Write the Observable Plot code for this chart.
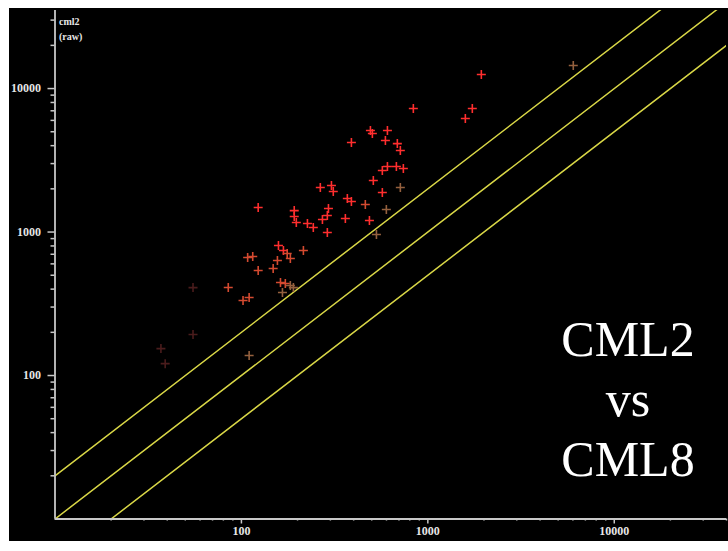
<!DOCTYPE html>
<html><head><meta charset="utf-8">
<script src="https://cdn.jsdelivr.net/npm/d3@7"></script>
<script src="https://cdn.jsdelivr.net/npm/@observablehq/plot@0.6"></script>
<style>
html,body{margin:0;padding:0;background:#fff;width:728px;height:551px;overflow:hidden;}
#panel{position:absolute;left:9px;top:8px;width:719px;height:533px;background:#000;}
#title{position:absolute;left:528px;top:309px;width:200px;text-align:center;font-family:"Liberation Serif","Times New Roman",serif;font-size:50px;line-height:60px;color:#fff;}
</style></head><body>
<div id="panel"></div>
<div id="title">CML2<br>vs<br>CML8</div>
<script>
// CML8 (x, raw) values
const cml8 = [37, 39, 55, 55, 85, 102, 110, 110, 108, 115, 123, 123, 148, 156, 158, 168, 176, 183, 162, 172, 183, 190, 166, 215,
  192, 192, 197, 226, 243, 272, 289, 293, 289, 265, 304, 311, 370, 389, 361, 389, 462, 486, 530, 492, 504, 607, 592, 686, 712,
  570, 607, 678, 739, 510, 712, 570, 599, 836, 1589, 1732, 1936, 6028];
// CML2 (y, raw) values
const cml2 = [154, 121, 410, 193, 411, 333, 350, 138, 664, 675, 1482, 539, 557, 633, 805, 743, 708, 654, 445, 438, 424, 410, 379, 743,
  1411, 1282, 1165, 1146, 1075, 1222, 1303, 1458, 992, 2042, 2109, 1915, 1712, 1632, 1242, 4204, 1555, 1203, 961, 5097, 4858, 5097, 4341, 4136, 3698,
  2683, 2860, 2860, 2770, 2285, 2042, 1885, 1435, 7255, 6179, 7255, 12518, 14465];
// intensity class of each marker
const shade = ["f", "f", "f", "f", "o", "o", "o", "d", "o", "o", "r", "o", "o", "o", "r", "r", "o", "o", "o", "o", "d", "d", "d", "o",
  "r", "r", "r", "r", "r", "r", "r", "r", "r", "r", "r", "r", "r", "r", "r", "r", "o", "r", "d", "r", "r", "r", "r", "r", "r",
  "r", "r", "r", "r", "r", "d", "r", "d", "r", "r", "r", "r", "d"];
const shadeNames = ["r", "o", "d", "f"];
const shadeColors = ["#ff2e2e", "#d44a30", "#94603e", "#4a1c1c"];

const ratios = [2, 1, 0.5];       // fold-change guide lines
const xDomain = [10, 40000];
const yDomain = [10, 35000];
const majorTicks = [100, 1000, 10000];
const decades = [10, 100, 1000, 10000];
const multiples = [2, 3, 4, 5, 6, 7, 8, 9];
const yLabel = ["cml2", "(raw)"];

const minorX = decades.flatMap(d => multiples.map(m => d * m)).filter(v => v <= xDomain[1]);
const minorY = decades.flatMap(d => multiples.map(m => d * m)).filter(v => v <= yDomain[1]);

const guide = ratios.flatMap(r => xDomain.map(x => ({r, x, y: x * r})));
const pts = cml8.map((x, i) => ({x, y: cml2[i], s: shade[i]}));

const plusSymbol = {
  draw(ctx, size) {
    const r = Math.sqrt(size / Math.PI);
    ctx.moveTo(-r, 0); ctx.lineTo(r, 0);
    ctx.moveTo(0, -r); ctx.lineTo(0, r);
  }
};

const axisColor = "#c8c8c8";
const labelFont = {fill: "#e6e6e6", fontSize: 12, fontWeight: "bold", fontFamily: "Liberation Serif, serif"};

const chart = Plot.plot({
  width: 719, height: 533,
  marginLeft: 45.5, marginTop: 2, marginRight: 2, marginBottom: 22.5,
  style: {background: "#000", overflow: "visible"},
  x: {type: "log", domain: xDomain},
  y: {type: "log", domain: yDomain},
  color: {type: "ordinal", domain: shadeNames, range: shadeColors},
  marks: [
    Plot.line(guide, {x: "x", y: "y", z: "r", stroke: "#d8d646", strokeWidth: 1.5, clip: true}),
    Plot.dot(pts, {x: "x", y: "y", stroke: "s", fill: "none", symbol: plusSymbol, r: 4.5, strokeWidth: 1.6}),
    Plot.ruleX([xDomain[0]], {stroke: axisColor, strokeWidth: 1.8}),
    Plot.ruleY([yDomain[0]], {stroke: axisColor, strokeWidth: 1.8}),
    Plot.axisY(majorTicks, {tickSize: 7, tickPadding: 7, stroke: axisColor, strokeWidth: 1.5, ...labelFont, tickFormat: d => String(d), label: null}),
    Plot.axisY(minorY, {tickSize: 4, text: null, stroke: axisColor, strokeWidth: 1.5, label: null}),
    Plot.axisX(majorTicks, {tickSize: 5, tickPadding: 2, stroke: axisColor, strokeWidth: 1.5, ...labelFont, tickFormat: d => String(d), label: null}),
    Plot.axisX(minorX, {tickSize: 2, text: null, stroke: axisColor, strokeWidth: 1.5, label: null}),
    Plot.text([yLabel.join("\n")], {frameAnchor: "top-left", dx: 4, dy: 4, lineAnchor: "top", textAnchor: "start",
      fill: "#e6e6e6", fontSize: 10, fontWeight: "bold", fontFamily: "Liberation Serif, serif", lineHeight: 1.5})
  ]
});
document.getElementById("panel").appendChild(chart);
</script>
</body></html>
